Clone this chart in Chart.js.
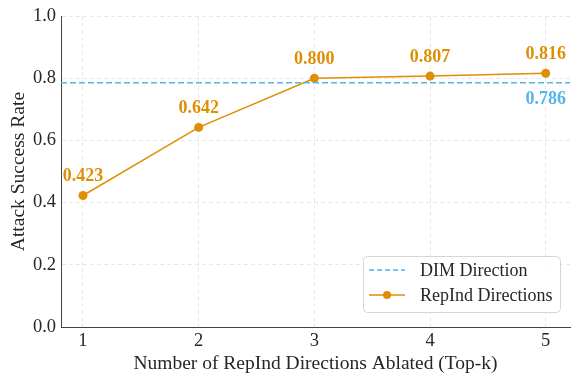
<!DOCTYPE html>
<html>
<head>
<meta charset="utf-8">
<script src="https://cdn.jsdelivr.net/npm/chart.js@4.4.0/dist/chart.umd.min.js"></script>
<style>
  body { margin: 0; background: #fff; }
  #wrap { width: 578px; height: 381px; }
</style>
</head>
<body>
<div id="wrap"><canvas id="myChart" width="578" height="381"></canvas></div>
<script>
const topK = [1, 2, 3, 4, 5];
const repIndAsr = [0.423, 0.642, 0.800, 0.807, 0.816];
const dimAsr = 0.786;
const yTicks = [0.0, 0.2, 0.4, 0.6, 0.8, 1.0];

const orange = '#DE8F05';
const blue = '#56B4E9';
const serif = "'Liberation Serif', 'DejaVu Serif', serif";
const xMin = 0.81, xMax = 5.21;

const labelPlugin = {
    id: 'labels',
    afterDatasetsDraw(chart) {
        const c = chart.ctx;
        const pts = chart.getDatasetMeta(1).data;
        c.save();
        c.font = 'bold 18px ' + serif;
        c.textAlign = 'center';
        c.textBaseline = 'middle';
        c.fillStyle = orange;
        pts.forEach((p, i) => {
            c.fillText(repIndAsr[i].toFixed(3), p.x, p.y - 19);
        });
        const xs = chart.scales.x, ys = chart.scales.y;
        c.fillStyle = blue;
        c.fillText(dimAsr.toFixed(3), xs.getPixelForValue(topK[topK.length - 1]), ys.getPixelForValue(dimAsr) + 17);

        // legend box
        const a = chart.chartArea;
        const bx = a.right - 207, by = a.bottom - 71, bw = 197, bh = 56;
        c.fillStyle = 'rgba(255,255,255,0.85)';
        c.strokeStyle = '#d6d6d6';
        c.lineWidth = 1;
        c.beginPath();
        c.roundRect(bx + 0.5, by + 0.5, bw, bh, 4);
        c.fill();
        c.stroke();
        c.lineWidth = 1.5;
        c.strokeStyle = blue;
        c.setLineDash([5, 3]);
        c.beginPath();
        c.moveTo(bx + 6, by + 14);
        c.lineTo(bx + 42, by + 14);
        c.stroke();
        c.setLineDash([]);
        c.strokeStyle = orange;
        c.beginPath();
        c.moveTo(bx + 6, by + 39);
        c.lineTo(bx + 42, by + 39);
        c.stroke();
        c.fillStyle = orange;
        c.beginPath();
        c.arc(bx + 24, by + 39, 4, 0, Math.PI * 2);
        c.fill();
        c.fillStyle = '#262626';
        c.font = '18px ' + serif;
        c.textAlign = 'left';
        c.fillText('DIM Direction', bx + 57, by + 15);
        c.fillText('RepInd Directions', bx + 57, by + 40);
        c.restore();
    }
};

new Chart(document.getElementById('myChart'), {
    type: 'line',
    data: {
        datasets: [{
            label: 'DIM Direction',
            data: [{x: xMin, y: dimAsr}, {x: xMax, y: dimAsr}],
            borderColor: blue,
            borderWidth: 1.5,
            borderDash: [6, 3],
            pointRadius: 0,
            tension: 0
        }, {
            label: 'RepInd Directions',
            data: topK.map((k, i) => ({x: k, y: repIndAsr[i]})),
            borderColor: orange,
            backgroundColor: orange,
            borderWidth: 1.5,
            pointRadius: 4.5,
            pointBorderWidth: 0,
            tension: 0
        }]
    },
    options: {
        responsive: false,
        animation: false,
        layout: { padding: { top: 16, right: 8, left: 0, bottom: 5 } },
        plugins: {
            legend: { display: false },
            tooltip: { enabled: false }
        },
        scales: {
            x: {
                type: 'linear',
                min: xMin,
                max: xMax,
                afterFit: s => { s.height = 49; },
                ticks: {
                    stepSize: 1,
                    includeBounds: false,
                    padding: 3,
                    color: '#262626',
                    font: { family: serif, size: 18.5 }
                },
                grid: { color: '#e8e8e8', drawTicks: false },
                border: { display: true, color: '#444', width: 1, dash: [4, 3] },
                title: {
                    display: true,
                    text: 'Number of RepInd Directions Ablated (Top-k)',
                    color: '#262626',
                    font: { family: serif, size: 19.5 },
                    padding: { top: 0, bottom: 0 }
                }
            },
            y: {
                min: 0,
                max: 1,
                afterFit: s => { s.width = 61; },
                afterBuildTicks: s => { s.ticks = yTicks.map(v => ({value: v})); },
                ticks: {
                    padding: 5,
                    color: '#262626',
                    callback: v => v.toFixed(1),
                    font: { family: serif, size: 18.5 }
                },
                grid: { color: '#e8e8e8', drawTicks: false },
                border: { display: true, color: '#444', width: 1, dash: [4, 3] },
                title: {
                    display: true,
                    text: 'Attack Success Rate',
                    color: '#262626',
                    font: { family: serif, size: 19.5 },
                    padding: { top: 7, bottom: 0 }
                }
            }
        }
    },
    plugins: [labelPlugin]
});
</script>
</body>
</html>
